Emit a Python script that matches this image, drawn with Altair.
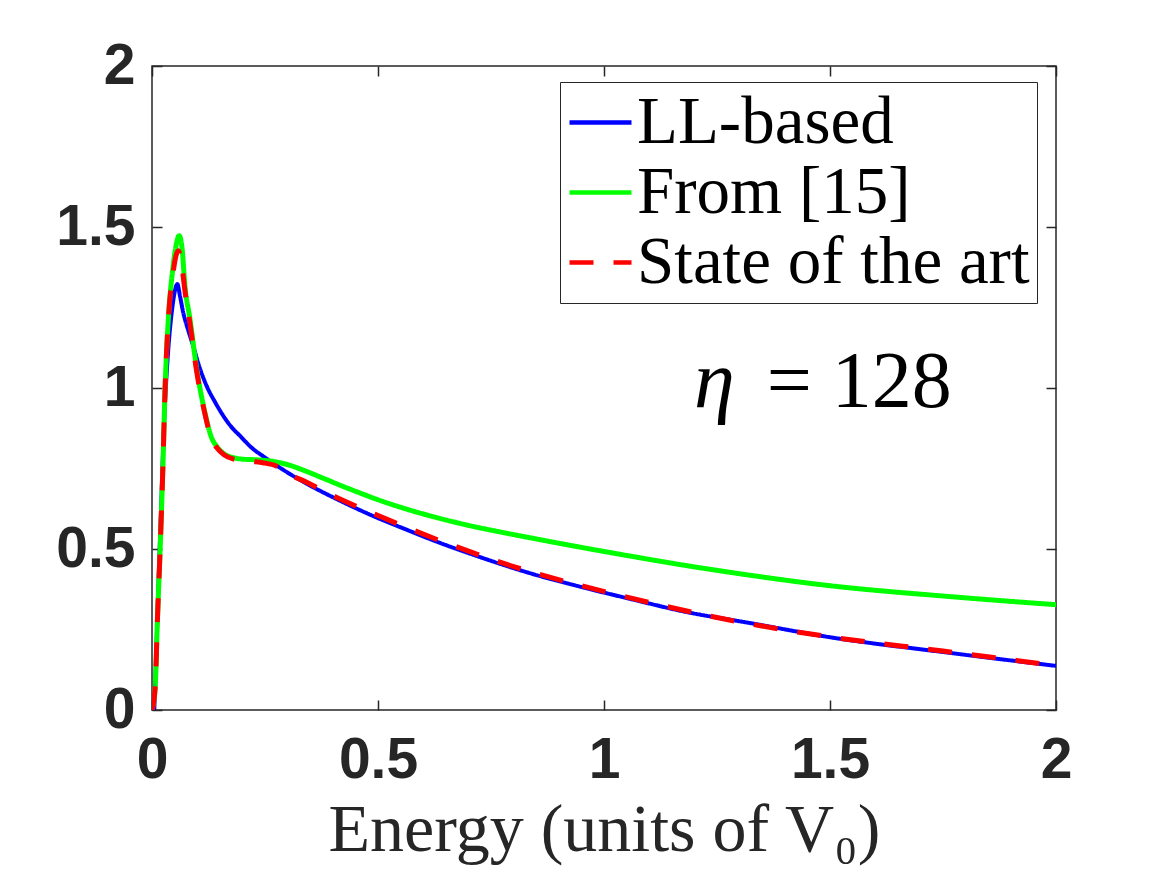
import altair as alt
import pandas as pd

# ---- data ----
ll_x = [0.005, 0.01, 0.015, 0.02, 0.027, 0.035, 0.045, 0.052, 0.056, 0.062, 0.069, 0.08,
        0.091, 0.105, 0.121, 0.14, 0.158, 0.175, 0.195, 0.22, 0.246, 0.275, 0.305, 0.342,
        0.416, 0.49, 0.563, 0.637, 0.711, 0.77, 0.836, 0.95, 1.058, 1.18, 1.323, 1.5, 1.75, 2.0]
ll_y = [0.0, 0.2, 0.42, 0.62, 0.9, 1.1, 1.25, 1.31, 1.323, 1.285, 1.235, 1.18,
        1.131, 1.065, 1.006, 0.955, 0.913, 0.88, 0.851, 0.815, 0.788, 0.76, 0.733, 0.703,
        0.65, 0.602, 0.56, 0.519, 0.482, 0.454, 0.425, 0.382, 0.345, 0.305, 0.27, 0.226, 0.18, 0.137]

ref_x = [0.0, 0.007, 0.012, 0.018, 0.024, 0.029, 0.036, 0.046, 0.053, 0.060, 0.066, 0.073,
         0.084, 0.099, 0.117, 0.132, 0.143, 0.16, 0.179, 0.2, 0.232, 0.268, 0.30,
         0.34, 0.38, 0.42, 0.46, 0.50, 0.563, 0.637, 0.711, 0.77, 0.836, 0.95, 1.058, 1.18,
         1.301, 1.5, 1.75, 2.0]
ref_y = [0.0, 0.07, 0.28, 0.5, 0.75, 1.0, 1.21, 1.37, 1.44, 1.473, 1.44, 1.317,
         1.214, 1.058, 0.924, 0.845, 0.819, 0.795, 0.784, 0.779, 0.777, 0.772, 0.762,
         0.742, 0.719, 0.696, 0.674, 0.653, 0.624, 0.595, 0.57, 0.553, 0.535, 0.505, 0.478, 0.449,
         0.423, 0.386, 0.354, 0.327]

sota_x = [0.0, 0.007, 0.012, 0.018, 0.024, 0.029, 0.036, 0.046, 0.053, 0.058, 0.064, 0.073,
          0.084, 0.099, 0.117, 0.132, 0.143, 0.16, 0.179, 0.2, 0.222, 0.245, 0.276, 0.298,
          0.342, 0.416, 0.49, 0.563, 0.637, 0.711, 0.77, 0.836, 0.95, 1.058, 1.301, 1.5, 1.75, 2.0]
sota_y = [0.0, 0.07, 0.28, 0.5, 0.75, 1.0, 1.21, 1.35, 1.41, 1.426, 1.40, 1.30,
          1.20, 1.05, 0.92, 0.84, 0.815, 0.792, 0.78, 0.776, 0.772, 0.768, 0.757, 0.737,
          0.707, 0.655, 0.61, 0.567, 0.526, 0.488, 0.459, 0.43, 0.386, 0.348, 0.273, 0.227, 0.183, 0.138]

series_names = ["LL-based", "From [15]", "State of the art"]
series_colors = ["#0000ff", "#00ff00", "#ff0000"]
series_dash = [[1, 0], [1, 0], [24, 20]]

tick_vals = [0, 0.5, 1, 1.5, 2]
ann_x = [1.36]
ann_y = [0.94]

frames = []
for name, xs, ys in [(series_names[0], ll_x, ll_y),
                     (series_names[1], ref_x, ref_y),
                     (series_names[2], sota_x, sota_y)]:
    frames.append(pd.DataFrame({"x": xs, "y": ys, "series": name}))
df = pd.concat(frames, ignore_index=True)
ann = pd.DataFrame({"x": ann_x, "y": ann_y})

INK = "#262626"
xscale = alt.Scale(domain=[0, 2], nice=False, zero=False)
yscale = alt.Scale(domain=[0, 2], nice=False, zero=False)
color_scale = alt.Scale(domain=series_names, range=series_colors)
dash_scale = alt.Scale(domain=series_names, range=series_dash)

legend = alt.Legend(
    title=None, orient="none", legendX=408, legendY=16,
    symbolType="stroke", symbolSize=3844, symbolStrokeWidth=4.5,
    labelFont="Liberation Serif", labelFontSize=67, labelColor="black",
    labelLimit=0, labelOffset=3, rowPadding=2,
    padding=7, strokeColor=INK, fillColor="white", cornerRadius=0,
)

x_axis = alt.Axis(
    orient="bottom", values=tick_vals, format="~g", grid=False, domain=False,
    offset=-10, tickSize=10, tickColor=INK, tickWidth=1.5,
    labelFont="Liberation Sans", labelFontWeight="bold", labelFontSize=57,
    labelColor=INK, labelPadding=22, labelFlush=False, labelOverlap=False,
    title="Energy (units of V\u2080)", titleFont="Liberation Serif", titleFontSize=68,
    titleFontWeight="normal", titleColor=INK, titleBaseline="alphabetic", titleY=150,
)
y_axis = alt.Axis(
    orient="left", values=tick_vals, format="~g", grid=False, domain=False,
    offset=-10, tickSize=10, tickColor=INK, tickWidth=1.5,
    labelFont="Liberation Sans", labelFontWeight="bold", labelFontSize=57,
    labelColor=INK, labelPadding=17, labelFlush=False, labelOverlap=False,
    title=None,
)
x_top = alt.Axis(orient="top", values=tick_vals, grid=False, domain=False, labels=False,
                 offset=-10, tickSize=10, tickColor=INK, tickWidth=1.5, title=None)
y_right = alt.Axis(orient="right", values=tick_vals, grid=False, domain=False, labels=False,
                   offset=-10, tickSize=10, tickColor=INK, tickWidth=1.5, title=None)


def series_layer(name, width, first=False):
    return alt.Chart(df).transform_filter(alt.datum.series == name).mark_line(
        strokeWidth=width, clip=True, interpolate="monotone"
    ).encode(
        x=alt.X("x:Q", scale=xscale, axis=x_axis if first else None),
        y=alt.Y("y:Q", scale=yscale, axis=y_axis if first else None),
        color=alt.Color("series:N", scale=color_scale, legend=legend),
        strokeDash=alt.StrokeDash("series:N", scale=dash_scale, legend=legend),
        order="x:Q",
    )


blue = series_layer(series_names[0], 4, first=True)
green = series_layer(series_names[1], 5)
red = series_layer(series_names[2], 5)

ticks = alt.Chart(df).mark_point(opacity=0).encode(
    x=alt.X("x:Q", scale=xscale, axis=x_top),
    y=alt.Y("y:Q", scale=yscale, axis=y_right),
)

eta = alt.Chart(ann).mark_text(
    text="\u03b7", font="Liberation Serif", fontStyle="italic", fontSize=82,
    align="right", baseline="alphabetic", dx=-32, color="black",
).encode(x=alt.X("x:Q", scale=xscale, axis=None), y=alt.Y("y:Q", scale=yscale, axis=None))

eq = alt.Chart(ann).mark_text(
    text="=  128", font="Liberation Serif", fontSize=80,
    align="left", baseline="alphabetic", color="black",
).encode(x=alt.X("x:Q", scale=xscale, axis=None), y=alt.Y("y:Q", scale=yscale, axis=None))

chart = alt.layer(blue, green, red, ticks, eta, eq).resolve_axis(
    x="independent", y="independent"
).properties(
    width=904, height=644,
    padding={"left": 144, "top": 58, "right": 103, "bottom": 157},
    autosize=alt.AutoSizeParams(type="none"),
).configure_view(stroke=INK, strokeWidth=1.5)

chart.save("out.html", embed_options={"renderer": "svg", "actions": False})
